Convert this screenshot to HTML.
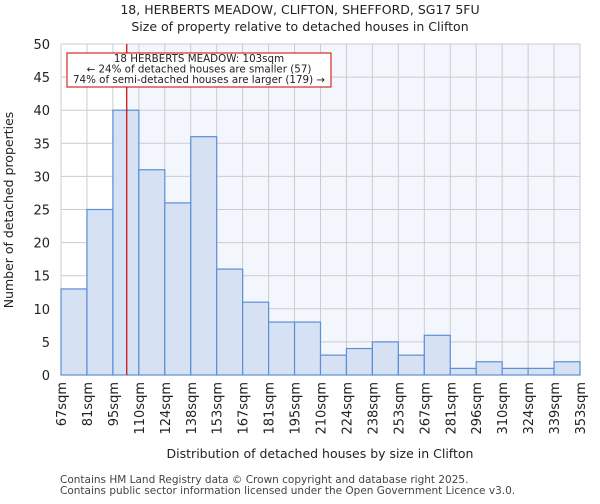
<!DOCTYPE html>
<html><head><meta charset="utf-8"><style>
body{margin:0;background:#fff;font-family:"DejaVu Sans","Liberation Sans",sans-serif;}
</style></head><body>
<svg id="c" width="600" height="500" xmlns="http://www.w3.org/2000/svg" font-family="DejaVu Sans, Liberation Sans, sans-serif">
<text x="300" y="14" text-anchor="middle" font-size="12.5" fill="#222">18, HERBERTS MEADOW, CLIFTON, SHEFFORD, SG17 5FU</text>
<text x="300" y="31" text-anchor="middle" font-size="12.5" fill="#222">Size of property relative to detached houses in Clifton</text>
<g id="plot"></g>
<text transform="translate(13,210) rotate(-90)" text-anchor="middle" font-size="12.5" fill="#222">Number of detached properties</text>
<text x="320" y="458" text-anchor="middle" font-size="12.5" fill="#222">Distribution of detached houses by size in Clifton</text>
<text x="60" y="483" font-size="10.5" fill="#444">Contains HM Land Registry data © Crown copyright and database right 2025.</text>
<text x="60" y="494" font-size="10.5" fill="#444">Contains public sector information licensed under the Open Government Licence v3.0.</text>
</svg>
<script>
const categories=["67sqm","81sqm","95sqm","110sqm","124sqm","138sqm","153sqm","167sqm","181sqm","195sqm","210sqm","224sqm","238sqm","253sqm","267sqm","281sqm","296sqm","310sqm","324sqm","339sqm","353sqm"];
const counts=[13,25,40,31,26,36,16,11,8,8,3,4,5,3,6,1,2,1,1,2];
const yTicks=[0,5,10,15,20,25,30,35,40,45,50];
const propertyIndex=2+8/15;
const annotationLines=["18 HERBERTS MEADOW: 103sqm","← 24% of detached houses are smaller (57)","74% of semi-detached houses are larger (179) →"];
const X0=61,X1=580,Y0=375,Y1=44,YMAX=50;
const n=counts.length,bw=(X1-X0)/n;
const xs=i=>X0+i*bw, ys=v=>Y0-(Y0-Y1)*v/YMAX;
const g=document.getElementById('plot'),NS="http://www.w3.org/2000/svg";
function mk(t,a){const e=document.createElementNS(NS,t);for(const k in a)e.setAttribute(k,a[k]);g.appendChild(e);return e;}
const px=xs(propertyIndex);
let e=mk('rect',{x:px,y:Y1,width:X1-px,height:Y0-Y1,fill:'#f3f6fd'});


yTicks.forEach(t=>{let l=mk('line',{x1:X0,x2:X1,y1:ys(t),y2:ys(t),stroke:'#cccccc'});


let tx=mk('text',{x:X0-11,y:ys(t)+5,'text-anchor':'end','font-size':'13',fill:'#222'});tx.textContent=t;

});
categories.forEach((c,i)=>{let l=mk('line',{x1:xs(i),x2:xs(i),y1:Y1,y2:Y0,stroke:'#cccccc'});


let tx=mk('text',{transform:`translate(${xs(i)+5},382) rotate(-90)`,'text-anchor':'end','font-size':'13',fill:'#222'});tx.textContent=c;

});
counts.forEach((v,i)=>{let r=mk('rect',{x:xs(i),y:ys(v),width:bw,height:Y0-ys(v),fill:'#d6e1f3',stroke:'#5b8fd6','stroke-width':1.2});

});
let rl=mk('line',{x1:px,x2:px,y1:Y1,y2:Y0,stroke:'#cc0000','stroke-width':1.2});


let bx=mk('rect',{x:67,y:53,width:264,height:34,fill:'#fff',stroke:'#cc0000'});


annotationLines.forEach((s,i)=>{let tx=mk('text',{x:199,y:62+i*10.5,'text-anchor':'middle','font-size':'10.3',fill:'#222'});tx.textContent=s;

});
</script>
</body></html>
